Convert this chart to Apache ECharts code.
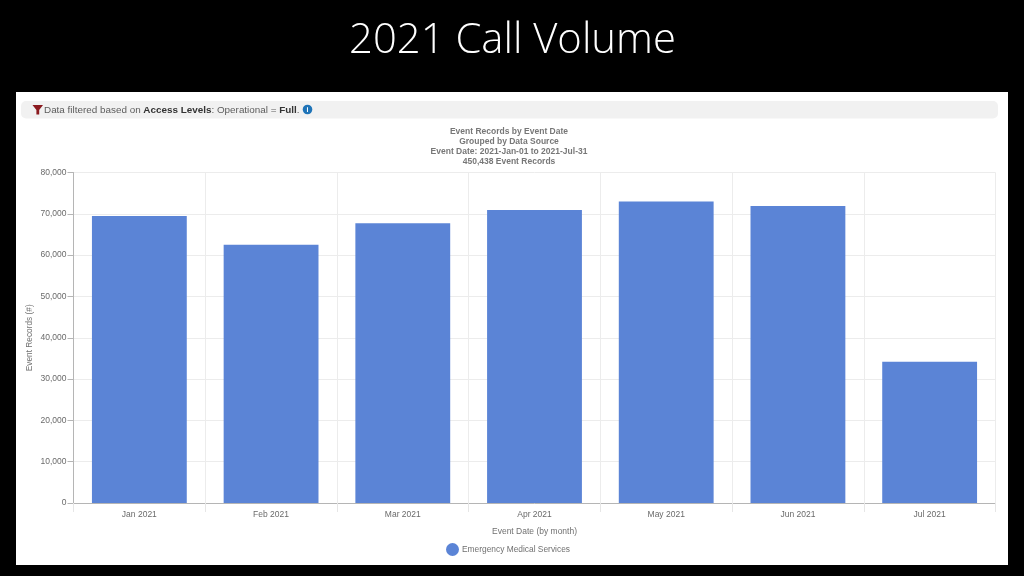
<!DOCTYPE html>
<html>
<head>
<meta charset="utf-8">
<style>html,body{margin:0;padding:0;background:#000}#c{width:1024px;height:576px}</style>
<script src="https://cdn.jsdelivr.net/npm/echarts@6/dist/echarts.min.js"></script>
</head>
<body>
<div id="c"></div>
<script>
const categories = ['Jan 2021','Feb 2021','Mar 2021','Apr 2021','May 2021','Jun 2021','Jul 2021'];
const emsValues = [69500,62500,67700,70900,73000,71900,34200];
const seriesName = 'Emergency Medical Services';
const subtitleLines = ['Event Records by Event Date','Grouped by Data Source','Event Date: 2021-Jan-01 to 2021-Jul-31','450,438 Event Records'];

const chart = echarts.init(document.getElementById('c'), null, {renderer:'canvas'});
const font = '"Liberation Sans", Arial, sans-serif';
chart.setOption({
  backgroundColor:'#000000',
  animation:false,
  graphic:[
    {type:'rect',z:-10,shape:{x:16,y:92,width:992,height:473},style:{fill:'#ffffff'}},
    {type:'rect',z:-9,shape:{x:21,y:101,width:977,height:17.5,r:5},style:{fill:'#f1f1f1'}},
    {type:'polygon',z:5,shape:{points:[[32.5,105],[43,105],[39.2,110],[39.2,114.5],[36.4,114.5],[36.4,110]]},style:{fill:'#8b1a1f'}},
    {type:'text',z:5,x:44,y:110,style:{
      text:'{n|Data filtered based on }{b|Access Levels}{n|: Operational = }{b|Full}{n|.}',
      verticalAlign:'middle',
      rich:{
        n:{font:'9.9px '+font,fill:'#5c5c5c'},
        b:{font:'bold 9.9px '+font,fill:'#333333'}
      }
    }},
    {type:'circle',z:5,shape:{cx:307.5,cy:109.5,r:4.8},style:{fill:'#1f74b8'}},
    {type:'text',z:6,x:307.5,y:109.7,style:{text:'i',font:'bold 7px '+font,fill:'#ffffff',align:'center',verticalAlign:'middle'}}
  ],
  title:[
    {text:'2021 Call Volume',left:507.5,top:15,textAlign:'center',
      textStyle:{color:'#ffffff',fontSize:41.8,fontWeight:300,fontFamily:'"Open Sans", sans-serif'}},
    {text:subtitleLines.join('\n'),left:509,top:127,textAlign:'center',padding:0,
      textStyle:{color:'#777777',fontSize:8.5,fontWeight:'bold',lineHeight:10,fontFamily:font}}
  ],
  legend:{
    left:446,top:543,itemWidth:13,itemHeight:13,icon:'circle',padding:0,itemGap:0,
    textStyle:{color:'#707070',fontSize:8.4,fontFamily:font,padding:[0,0,0,-2]},
    data:[seriesName]
  },
  grid:{left:73.5,right:28.5,top:172.5,bottom:73,containLabel:false},
  xAxis:{
    type:'category',data:categories,
    name:'Event Date (by month)',nameLocation:'middle',nameGap:24,
    nameTextStyle:{color:'#707070',fontSize:8.5,fontFamily:font},
    axisLine:{lineStyle:{color:'#b5b5b5',width:1}},
    axisTick:{show:true,alignWithLabel:false,length:9,lineStyle:{color:'#e6e6e6'}},
    axisLabel:{color:'#6a6a6a',fontSize:8.5,fontFamily:font,margin:7},
    splitLine:{show:true,lineStyle:{color:'#ececec',width:1}}
  },
  yAxis:{
    type:'value',min:0,max:80000,interval:10000,
    name:'Event Records (#)',nameLocation:'middle',nameGap:40,nameMoveOverlap:false,
    nameTextStyle:{color:'#707070',fontSize:8.3,fontFamily:font},
    axisLine:{show:true,lineStyle:{color:'#b5b5b5',width:1}},
    axisTick:{show:true,length:6,lineStyle:{color:'#b5b5b5'}},
    axisLabel:{color:'#6a6a6a',fontSize:8.5,fontFamily:font,margin:7,
      formatter:v=>v.toLocaleString('en-US')},
    splitLine:{show:true,lineStyle:{color:'#ececec',width:1}}
  },
  series:[{
    name:seriesName,type:'bar',data:emsValues,barWidth:'72%',
    itemStyle:{color:'#5b84d6'}
  }]
});
</script>
</body>
</html>
